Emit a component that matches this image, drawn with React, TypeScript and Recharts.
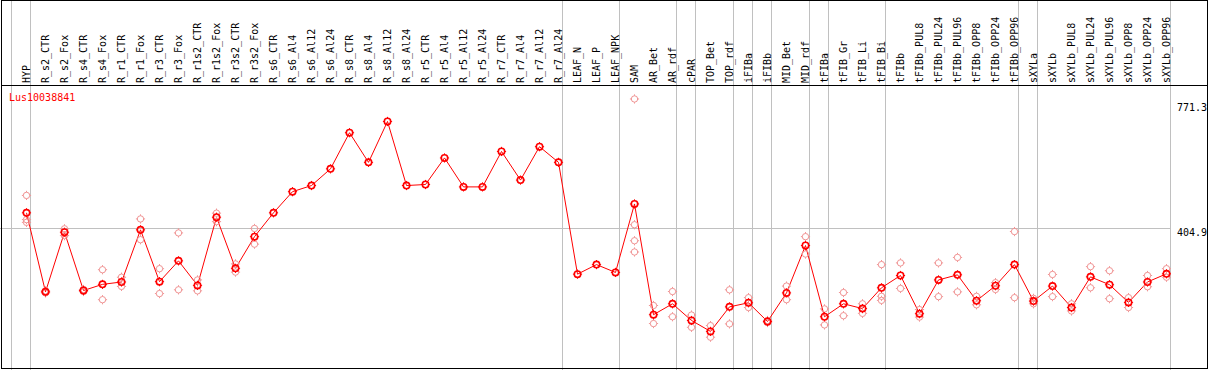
import React from "react";
import {
  ComposedChart,
  Line,
  Scatter,
  XAxis,
  YAxis,
  ReferenceLine,
} from "recharts";

const GENE = "Lus10038841";

const CATEGORIES = [
  "HYP", "R_s2_CTR", "R_s2_Fox", "R_s4_CTR", "R_s4_Fox", "R_r1_CTR", "R_r1_Fox",
  "R_r3_CTR", "R_r3_Fox", "R_r1s2_CTR", "R_r1s2_Fox", "R_r3s2_CTR", "R_r3s2_Fox",
  "R_s6_CTR", "R_s6_Al4", "R_s6_Al12", "R_s6_Al24", "R_s8_CTR", "R_s8_Al4",
  "R_s8_Al12", "R_s8_Al24", "R_r5_CTR", "R_r5_Al4", "R_r5_Al12", "R_r5_Al24",
  "R_r7_CTR", "R_r7_Al4", "R_r7_Al12", "R_r7_Al24", "LEAF_N", "LEAF_P", "LEAF_NPK",
  "SAM", "AR_Bet", "AR_rdf", "cPAR", "TOP_Bet", "TOP_rdf", "iFIBa", "iFIBb",
  "MID_Bet", "MID_rdf", "tFIBa", "tFIB_Gr", "tFIB_Li", "tFIB_Bi", "tFIBb",
  "tFIBb_PUL8", "tFIBb_PUL24", "tFIBb_PUL96", "tFIBb_OPP8", "tFIBb_OPP24",
  "tFIBb_OPP96", "sXYLa", "sXYLb", "sXYLb_PUL8", "sXYLb_PUL24", "sXYLb_PUL96",
  "sXYLb_OPP8", "sXYLb_OPP24", "sXYLb_OPP96",
];

// mean expression per sample
const MEANS = [
  451, 219, 394, 223, 241, 248, 401, 249, 310, 238, 438, 288, 381,
  451, 513, 531, 580, 686, 599, 719, 531, 534, 612, 527, 527, 631, 547, 645, 599,
  271, 299, 276,
  477, 152, 184, 135, 103, 175, 187, 132, 216, 355,
  146, 184, 170, 231, 267, 155, 254, 269, 193, 237, 299,
  192, 236, 173, 263, 240, 188, 248, 272,
];

// individual replicates (pale circles)
const REPLICATES: number[][] = [
  [502, 431, 423], [222, 216], [404, 384], [226, 220], [284, 196], [262, 235],
  [433, 372], [287, 214], [392, 225], [254, 222], [450, 425], [301, 277], [405, 359],
  [], [], [], [], [], [], [], [], [], [], [], [], [], [], [], [],
  [], [], [],
  [785, 416, 369, 336], [179, 126], [220, 146], [151, 115], [120, 86], [225, 125],
  [202, 173], [135, 129], [236, 196], [381, 330],
  [169, 122], [217, 149], [184, 156], [299, 206, 194], [304, 229], [167, 145],
  [304, 205], [320, 219], [206, 181], [246, 226], [396, 202],
  [184, 200], [270, 205], [184, 163], [293, 231], [281, 199], [202, 173],
  [267, 234], [287, 262],
];

const Y_TICKS = [0, 404.9, 771.3];

// vertical separators sit just after these sample indices
const GROUP_BREAKS = [-1, 0, 28, 31, 34, 35, 37, 38, 39, 41, 42, 45, 52, 53, 60];

const W = 1209;
const H = 370;
const STEP = 19;
const PLOT_RIGHT = 1171;
const X_MIN = -26.5 / STEP;
const X_MAX = X_MIN + PLOT_RIGHT / STEP;
const Y_MAX = 826;
const FONT = "'DejaVu Sans Mono', monospace";

const meanData = MEANS.map((v, i) => ({ x: i, mean: v }));
const repData = REPLICATES.flatMap((reps, i) => reps.map((v) => ({ x: i, rep: v })));

function Ring({ cx, cy, color, width }: { cx?: number; cy?: number; color: string; width: number }) {
  if (cx == null || cy == null) return null;
  const r = 3.2;
  const t = 4.6;
  return (
    <g>
      <circle cx={cx} cy={cy} r={r} fill="none" stroke={color} strokeWidth={width} />
      <path
        d={`M${cx},${cy - r}V${cy - t}M${cx},${cy + r}V${cy + t}M${cx - r},${cy}H${cx - t}M${cx + r},${cy}H${cx + t}`}
        stroke={color}
        strokeWidth={1}
      />
    </g>
  );
}

function SampleTick({ x, payload }: any) {
  return (
    <text
      transform={`translate(${x + 3},83) rotate(-90)`}
      textAnchor="start"
      fontFamily={FONT}
      fontSize={10}
      fill="#000"
    >
      {CATEGORIES[payload.value]}
    </text>
  );
}

function ValueTick({ y, payload }: any) {
  return (
    <text x={1177} y={Math.min(y + 7, 367)} fontFamily={FONT} fontSize={10} fill="#000">
      {payload.value}
    </text>
  );
}

export default function App() {
  return (
    <div style={{ position: "absolute", left: 0, top: 0, width: W, height: H, background: "#fff" }}>
      <ComposedChart
        width={W}
        height={H}
        data={meanData}
        margin={{ top: 0, right: 0, bottom: 3.5, left: 0 }}
      >
        <XAxis
          dataKey="x"
          type="number"
          orientation="top"
          domain={[X_MIN, X_MAX]}
          allowDataOverflow
          ticks={CATEGORIES.map((_, i) => i)}
          interval={0}
          height={85}
          axisLine={false}
          tickLine={false}
          tick={<SampleTick />}
        />
        <YAxis
          type="number"
          orientation="right"
          domain={[0, Y_MAX]}
          allowDataOverflow
          ticks={Y_TICKS}
          width={38}
          axisLine={false}
          tickLine={false}
          tick={<ValueTick />}
        />
        <ReferenceLine y={404.9} stroke="#c0c0c0" strokeWidth={1} />
        {GROUP_BREAKS.map((b) => (
          <ReferenceLine
            key={b}
            ifOverflow="visible"
            segment={[
              { x: b + 4 / STEP, y: -20 },
              { x: b + 4 / STEP, y: 1200 },
            ]}
            stroke="#c0c0c0"
            strokeWidth={1}
          />
        ))}
        <Scatter
          data={repData}
          dataKey="rep"
          isAnimationActive={false}
          shape={(p: any) => <Ring cx={p.cx} cy={p.cy} color="#f09494" width={1} />}
        />
        <Line
          type="linear"
          dataKey="mean"
          stroke="#ff0000"
          strokeWidth={1}
          isAnimationActive={false}
          activeDot={false}
          dot={(p: any) => <Ring key={p.index} cx={p.cx} cy={p.cy} color="#ff0000" width={1.6} />}
        />
      </ComposedChart>
      <svg
        width={W}
        height={H}
        style={{ position: "absolute", left: 0, top: 0, pointerEvents: "none" }}
      >
        <rect x={1.5} y={0.5} width={1206} height={368} fill="none" stroke="#000" strokeWidth={1} />
        <line x1={1} y1={85.5} x2={1207} y2={85.5} stroke="#000" strokeWidth={1} />
        <text x={9} y={101} fontFamily={FONT} fontSize={10} fill="#ff0000">
          {GENE}
        </text>
      </svg>
    </div>
  );
}
